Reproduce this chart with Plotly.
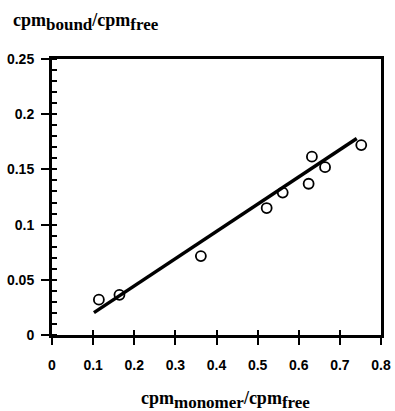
import plotly.graph_objects as go

# measured data points
x_vals = [0.114, 0.164, 0.362, 0.522, 0.561, 0.624, 0.632, 0.664, 0.752]
y_vals = [0.032, 0.0364, 0.0715, 0.115, 0.129, 0.137, 0.1615, 0.152, 0.172]

# fitted regression line endpoints
fit_x = [0.102, 0.741]
fit_y = [0.0203, 0.178]

x_ticks = [0, 0.1, 0.2, 0.3, 0.4, 0.5, 0.6, 0.7, 0.8]
x_tick_text = ["0", "0.1", "0.2", "0.3", "0.4", "0.5", "0.6", "0.7", "0.8"]
y_ticks = [0, 0.05, 0.1, 0.15, 0.2, 0.25]
y_tick_text = ["0", "0.05", "0.1", "0.15", "0.2", "0.25"]

tick_font = dict(family="Liberation Sans, Arial", size=14, color="black")
title_font = dict(family="Liberation Serif, Times New Roman", size=18, color="black")

def sub(s):
    return f"<sub><span style='font-size:17px'>{s}</span></sub>"

y_title = f"<b>cpm{sub('bound')}/cpm{sub('free')}</b>"
x_title = f"<b>cpm{sub('monomer')}/cpm{sub('free')}</b>"

fig = go.Figure()
fig.add_trace(go.Scatter(x=fit_x, y=fit_y, mode="lines",
                         line=dict(color="black", width=3.5), showlegend=False))
fig.add_trace(go.Scatter(x=x_vals, y=y_vals, mode="markers",
                         marker=dict(symbol="circle-open", size=10, color="black",
                                     line=dict(width=1.8, color="black")),
                         showlegend=False))
# invisible trace on overlay axes so inner tick stubs are drawn
fig.add_trace(go.Scatter(x=[None], y=[None], xaxis="x2", yaxis="y2",
                         showlegend=False, hoverinfo="skip"))

fig.update_layout(
    template="none",
    width=395, height=411,
    margin=dict(l=52, r=14, t=59, b=76),
    paper_bgcolor="white", plot_bgcolor="white",
    xaxis=dict(range=[0, 0.8], tickvals=x_ticks, ticktext=[f"<b>{t}</b>" for t in x_tick_text],
               ticks="outside", ticklen=7, tickwidth=2, tickcolor="black",
               ticklabelstandoff=8, automargin=False,
               showline=True, linewidth=3, linecolor="black", mirror=True,
               showgrid=False, zeroline=False, tickfont=tick_font),
    yaxis=dict(range=[0, 0.25], tickvals=y_ticks, ticktext=[f"<b>{t}</b>" for t in y_tick_text],
               ticks="outside", ticklen=8, tickwidth=2, tickcolor="black",
               ticklabelstandoff=4, automargin=False,
               showline=True, linewidth=3, linecolor="black", mirror=True,
               showgrid=False, zeroline=False, tickfont=tick_font,
               minor=dict(dtick=0.01, ticks="inside", ticklen=5, tickwidth=1.5,
                          tickcolor="black", showgrid=False)),
    xaxis2=dict(overlaying="x", matches="x", range=[0, 0.8], tickvals=x_ticks,
                ticks="inside", ticklen=5, tickwidth=2, tickcolor="black", automargin=False,
                showticklabels=False, showline=False, showgrid=False, zeroline=False),
    yaxis2=dict(overlaying="y", matches="y", range=[0, 0.25], tickvals=y_ticks,
                ticks="inside", ticklen=5, tickwidth=2, tickcolor="black", automargin=False,
                showticklabels=False, showline=False, showgrid=False, zeroline=False),
    annotations=[
        dict(text=y_title, xref="paper", yref="paper",
             x=-0.1246, y=1.134, xanchor="left", yanchor="middle", showarrow=False,
             font=title_font),
        dict(text=x_title, xref="paper", yref="paper",
             x=0.526, y=-0.236, xanchor="center", yanchor="middle", showarrow=False,
             font=title_font),
    ],
)

fig.write_html(
    "out.html",
    config={"displayModeBar": False},
    post_script="document.body.style.margin='0';document.body.style.overflow='hidden';",
)
